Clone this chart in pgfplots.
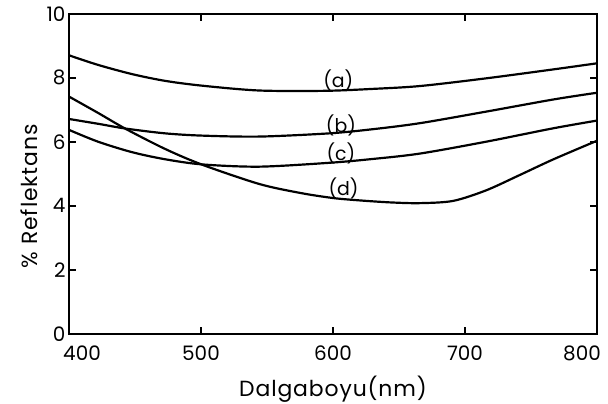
\documentclass[border=0pt]{standalone}
\usepackage{pgfplots}
\pgfplotsset{compat=1.18}
\usepackage{fontspec}
\setmainfont{Poppins}
\begin{document}
\begin{tikzpicture}
\begin{axis}[
    scale only axis,
    width=528bp, height=320bp,
    xmin=400, xmax=800,
    ymin=0, ymax=10,
    xtick={400,500,600,700,800},
    xticklabels={\hspace*{26bp}400, 500, 600, 700, 800\hspace*{30bp}},
    ytick={0,2,4,6,8,10},
    tick align=inside,
    major tick length=7bp,
    tick style={line width=1.8pt, black},
    axis line style={line width=2pt},
    /pgf/number format/assume math mode=true,
    tick label style={font=\fontsize{20}{24}\selectfont},
    xticklabel style={yshift=-9bp},
    xlabel={Dalgaboyu(nm)},
    ylabel={\% Reflektans},
    label style={font=\fontsize{22}{26}\selectfont\addfontfeature{LetterSpace=4}},
    xlabel style={yshift=-8bp},
    ylabel style={at={(ticklabel cs:0.43)}, yshift=2bp},
]
% (a)
\addplot[black, line width=2.2pt, smooth] coordinates {
    (400,8.70) (422,8.40) (448,8.11) (473,7.90) (501,7.75) (544,7.60)
    (594,7.59) (630,7.65) (666,7.74) (716,7.98) (767,8.26) (800,8.45)
};
% (b)
\addplot[black, line width=2.2pt, smooth] coordinates {
    (400,6.71) (422,6.56) (443,6.41) (473,6.26) (501,6.19) (544,6.16)
    (597,6.26) (630,6.39) (666,6.58) (716,6.94) (767,7.32) (800,7.53)
};
% (c)
\addplot[black, line width=2.2pt, smooth] coordinates {
    (400,6.37) (422,6.00) (448,5.67) (473,5.45) (501,5.29) (544,5.22)
    (597,5.34) (630,5.46) (666,5.63) (716,6.00) (767,6.42) (800,6.66)
};
% (d)
\addplot[black, line width=2.2pt, smooth] coordinates {
    (400,7.41) (422,6.90) (443,6.40) (473,5.77) (501,5.28) (544,4.68)
    (575,4.40) (600,4.24) (622,4.16) (645,4.10) (666,4.08) (691,4.15)
    (716,4.48) (741,4.95) (767,5.45) (800,6.03)
};
\node[font=\fontsize{19}{22}\selectfont] at (axis cs:604,7.93) {(a)};
\node[font=\fontsize{19}{22}\selectfont] at (axis cs:606,6.52) {(b)};
\node[font=\fontsize{19}{22}\selectfont] at (axis cs:606,5.62) {(c)};
\node[font=\fontsize{19}{22}\selectfont] at (axis cs:608,4.55) {(d)};
\end{axis}
\pgfresetboundingbox
\path ([xshift=-69bp,yshift=-69.3bp]current axis.south west) rectangle ([xshift=11bp,yshift=13.7bp]current axis.north east);
\end{tikzpicture}
\end{document}
